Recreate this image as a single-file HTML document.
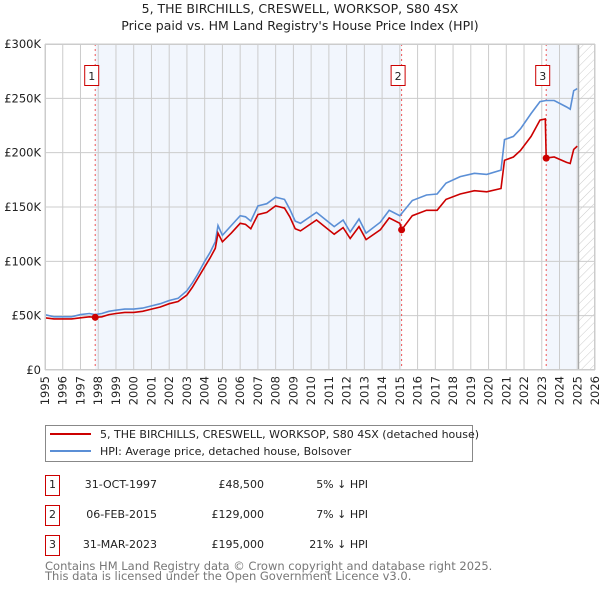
<!DOCTYPE html>
<html><head><meta charset="utf-8"><style>
body{margin:0;background:#fff;font-family:"Liberation Sans","DejaVu Sans",sans-serif}
svg text{font-family:"DejaVu Sans","Liberation Sans",sans-serif}
</style></head><body>
<svg id="c" width="600" height="590" xmlns="http://www.w3.org/2000/svg">
<defs><pattern id="hatch" width="6" height="6" patternUnits="userSpaceOnUse" patternTransform="rotate(45)"><line x1="0" y1="0" x2="0" y2="6" stroke="#ccc" stroke-width="1"/></pattern></defs>
<text x="300" y="13" text-anchor="middle" font-size="12.5" fill="#222">5, THE BIRCHILLS, CRESWELL, WORKSOP, S80 4SX</text>
<text x="300" y="30" text-anchor="middle" font-size="12.5" fill="#222">Price paid vs. HM Land Registry's House Price Index (HPI)</text>
<g id="plot"></g>
<g>
<rect x="45.5" y="425.5" width="427" height="36" fill="#fff" stroke="#888"/>
<line x1="50" y1="434" x2="91" y2="434" stroke="#cc0000" stroke-width="2"/>
<text x="100" y="438" font-size="11" fill="#222">5, THE BIRCHILLS, CRESWELL, WORKSOP, S80 4SX (detached house)</text>
<line x1="50" y1="451" x2="91" y2="451" stroke="#5b8fd6" stroke-width="2"/>
<text x="100" y="455" font-size="11" fill="#222">HPI: Average price, detached house, Bolsover</text>
</g>
<g font-size="11" fill="#222">
<rect x="45.5" y="475.5" width="14" height="20" fill="#fff" stroke="#cc0000"/><text x="52.5" y="488" text-anchor="middle">1</text>
<text x="157" y="488" text-anchor="end">31-OCT-1997</text><text x="264" y="488" text-anchor="end">£48,500</text><text x="368" y="488" text-anchor="end">5% ↓ HPI</text>
<rect x="45.5" y="505.5" width="14" height="20" fill="#fff" stroke="#cc0000"/><text x="52.5" y="518" text-anchor="middle">2</text>
<text x="157" y="518" text-anchor="end">06-FEB-2015</text><text x="264" y="518" text-anchor="end">£129,000</text><text x="368" y="518" text-anchor="end">7% ↓ HPI</text>
<rect x="45.5" y="535.5" width="14" height="20" fill="#fff" stroke="#cc0000"/><text x="52.5" y="548" text-anchor="middle">3</text>
<text x="157" y="548" text-anchor="end">31-MAR-2023</text><text x="264" y="548" text-anchor="end">£195,000</text><text x="368" y="548" text-anchor="end">21% ↓ HPI</text>
</g>
<text x="45" y="570" font-size="11.5" fill="#777">Contains HM Land Registry data © Crown copyright and database right 2025.</text>
<text x="45" y="580" font-size="11.5" fill="#777">This data is licensed under the Open Government Licence v3.0.</text>
</svg>
<script>
const hpiYears=[1995,1995.5,1996,1996.5,1997,1997.5,1997.83,1998.2,1998.6,1999,1999.5,2000,2000.5,2001,2001.5,2002,2002.5,2003,2003.3,2003.6,2004,2004.3,2004.6,2004.75,2005,2005.5,2006,2006.3,2006.6,2007,2007.5,2008,2008.5,2008.8,2009.1,2009.4,2010.3,2011.3,2011.8,2012.2,2012.7,2013.1,2013.9,2014.4,2015.0,2015.7,2016.5,2017.1,2017.6,2018.4,2019.2,2019.9,2020.7,2020.9,2021.4,2021.8,2022.4,2022.9,2023.25,2023.7,2024.4,2024.6,2024.8,2025.0];
const hpiValues=[51,49,49,49,51,52,51,52,54,55,56,56,57,59,61,64,66,73,80,88,100,108,118,133,124,133,142,141,137,151,153,159,157,148,137,135,145,132,138,127,139,126,136,147,142,156,161,162,172,178,181,180,184,212,215,222,236,247,248,248,242,240,257,259];
const redYears=[1995,1995.5,1996,1996.5,1997,1997.5,1997.83,1998.2,1998.6,1999,1999.5,2000,2000.5,2001,2001.5,2002,2002.5,2003,2003.3,2003.6,2004,2004.3,2004.6,2004.75,2005,2005.5,2006,2006.3,2006.6,2007,2007.5,2008,2008.5,2008.8,2009.1,2009.4,2010.3,2011.3,2011.8,2012.2,2012.7,2013.1,2013.9,2014.4,2015.0,2015.1,2015.7,2016.5,2017.1,2017.6,2018.4,2019.2,2019.9,2020.7,2020.9,2021.4,2021.8,2022.4,2022.9,2023.2,2023.25,2023.7,2024.4,2024.6,2024.8,2025.0];
const redValues=[48,47,47,47,48,49,48.5,49,51,52,53,53,54,56,58,61,63,69,76,84,95,103,112,126,118,126,135,134,130,143,145,151,149,141,130,128,138,125,131,121,132,120,129,140,135,129,142,147,147,157,162,165,164,167,193,196,202,215,230,231,195,196,191,190,203,206];
const saleYears=[1997.83,2015.1,2023.25];
const salePrices=[48.5,129,195];
const saleLabels=["1","2","3"];
const yTicks=[0,50,100,150,200,250,300];
const yTickLabels=["£0","£50K","£100K","£150K","£200K","£250K","£300K"];
const xStart=1995,xEnd=2026,dataEnd=2025.08;
const L=45,R=595,T=44,B=370;
const X=y=>L+(y-xStart)/(xEnd-xStart)*(R-L);
const Y=v=>B-v/300*(B-T);
const NS="http://www.w3.org/2000/svg";
const g=document.getElementById('plot');
function el(t,a,p){const e=document.createElementNS(NS,t);for(const k in a)e.setAttribute(k,a[k]);(p||g).appendChild(e);return e;}
let b=el('rect',{x:X(saleYears[0]),y:T,width:X(saleYears[1])-X(saleYears[0]),height:B-T,fill:'#f2f6fd'});


b=el('rect',{x:X(saleYears[2]),y:T,width:X(dataEnd)-X(saleYears[2]),height:B-T,fill:'#f2f6fd'});


b=el('rect',{x:X(dataEnd),y:T,width:R-X(dataEnd),height:B-T,fill:'url(#hatch)'});


for(let yr=xStart;yr<=xEnd;yr++){
 const l=el('line',{x1:X(yr),x2:X(yr),y1:T,y2:B,stroke:'#ccc','stroke-width':1});
 
 
 const t=el('text',{transform:`translate(${X(yr)+4},${B+6}) rotate(-90)`,'text-anchor':'end','font-size':11.5,fill:'#222'});
 
 
 t.textContent=yr;
}
yTicks.forEach((v,i)=>{
 const l=el('line',{x1:L,x2:R,y1:Y(v),y2:Y(v),stroke:'#ccc','stroke-width':1});
 
 
 const t=el('text',{x:L-4,y:Y(v)+4,'text-anchor':'end','font-size':11.5,fill:'#222'});
 
 
 t.textContent=yTickLabels[i];
});
b=el('line',{x1:X(dataEnd),x2:X(dataEnd),y1:T,y2:B,stroke:'#999','stroke-width':1});


saleYears.forEach((s,i)=>{
 const l=el('line',{x1:X(s),x2:X(s),y1:T,y2:B,stroke:'#ee5555','stroke-width':1,'stroke-dasharray':'2,3'});
 
 
});
const pts=(xs,vs)=>xs.map((x,i)=>X(x).toFixed(1)+','+Y(vs[i]).toFixed(1)).join(' ');
const h=el('polyline',{points:pts(hpiYears,hpiValues),fill:'none',stroke:'#5b8fd6','stroke-width':1.6});


const r=el('polyline',{points:pts(redYears,redValues),fill:'none',stroke:'#cc0000','stroke-width':1.6});


saleYears.forEach((s,i)=>{
 const c=el('circle',{cx:X(s),cy:Y(salePrices[i]),r:3.5,fill:'#cc0000'});
 
 
 const bx=el('rect',{x:X(s)-10.5,y:65.5,width:14,height:20,fill:'#fff',stroke:'#cc0000'});
 
 
 const t=el('text',{x:X(s)-3.5,y:80,'text-anchor':'middle','font-size':11,fill:'#222'});
 
 
 t.textContent=saleLabels[i];
});
b=el('rect',{x:L+0.5,y:T+0.5,width:R-L-1,height:B-T-1,fill:'none',stroke:'#ccc'});


</script>
</body></html>
